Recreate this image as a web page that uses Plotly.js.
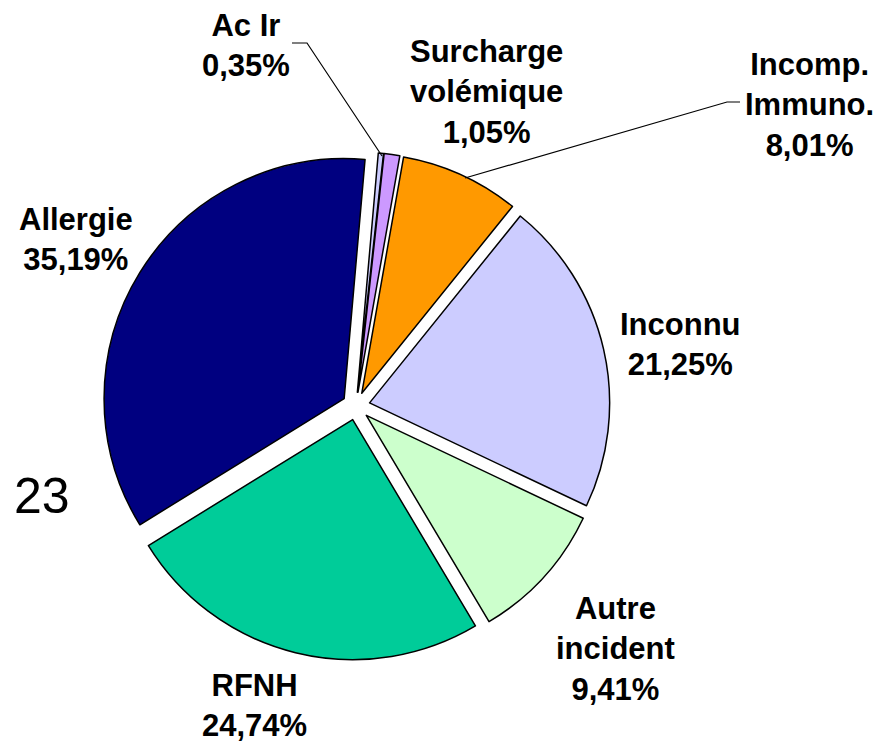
<!DOCTYPE html>
<html>
<head>
<meta charset="utf-8">
<script src="https://cdn.plot.ly/plotly-3.0.1.min.js"></script>
<style>html,body{margin:0;padding:0;background:#fff;}#chart{width:887px;height:745px;}</style>
</head>
<body>
<div id="chart"></div>
<script>
// ---- data ----
const labels = ['Ac Ir', 'Surcharge volémique', 'Incomp. Immuno.', 'Inconnu', 'Autre incident', 'RFNH', 'Allergie'];
const labelText = ['Ac Ir', 'Surcharge<br>volémique', 'Incomp.<br>Immuno.', 'Inconnu', 'Autre<br>incident', 'RFNH', 'Allergie'];
const values = [0.35, 1.05, 8.01, 21.25, 9.41, 24.74, 35.19];
const colors = ['#CCCCFF', '#CC99FF', '#FF9900', '#CCCCFF', '#CCFFCC', '#00CC99', '#000080'];
const cornerText = '23';

// ---- layout helpers (pixel -> paper) ----
const W = 887, H = 745;
const px = x => x / W;
const py = y => 1 - y / H;

// label block centres (pixels)
const labelPos = [[246, 45], [486, 92], [809, 105], [680, 344], [615, 649], [254, 705], [76, 239]];

const fmt = v => v.toFixed(2).replace('.', ',') + '%';

const annotations = labels.map((l, i) => ({
  xref: 'paper', yref: 'paper',
  x: px(labelPos[i][0]), y: py(labelPos[i][1]),
  xanchor: 'center', yanchor: 'middle',
  showarrow: false,
  text: '<b>' + labelText[i] + '<br>' + fmt(values[i]) + '</b>',
  font: {family: 'Liberation Sans, Arial, sans-serif', size: 31, color: '#000'}
}));
annotations.push({
  xref: 'paper', yref: 'paper', x: px(42), y: py(496),
  xanchor: 'center', yanchor: 'middle', showarrow: false,
  text: cornerText,
  font: {family: 'Liberation Sans, Arial, sans-serif', size: 50, color: '#000'}
});

const path = pts => pts.map((p, i) => (i ? 'L' : 'M') + px(p[0]) + ',' + py(p[1])).join(' ');
const shapes = [
  {type: 'path', xref: 'paper', yref: 'paper', path: path([[292, 43], [307, 43], [382, 156]]), line: {color: '#000', width: 1.2}},
  {type: 'path', xref: 'paper', yref: 'paper', path: path([[740, 102], [727, 102], [465, 178]]), line: {color: '#000', width: 1.2}}
];

const trace = {
  type: 'pie',
  labels: labels,
  values: values,
  sort: false,
  direction: 'clockwise',
  rotation: 5,
  pull: values.map(() => 0.058),
  marker: {colors: colors, line: {color: '#000', width: 1.5}},
  textinfo: 'none',
  hoverinfo: 'label+percent',
  showlegend: false,
  domain: {x: [px(102), px(610)], y: [py(660), py(152)]}
};

Plotly.newPlot('chart', [trace], {
  width: W, height: H,
  margin: {l: 0, r: 0, t: 0, b: 0},
  paper_bgcolor: '#fff',
  showlegend: false,
  annotations: annotations,
  shapes: shapes
}, {displayModeBar: false, staticPlot: true});
</script>
</body>
</html>
